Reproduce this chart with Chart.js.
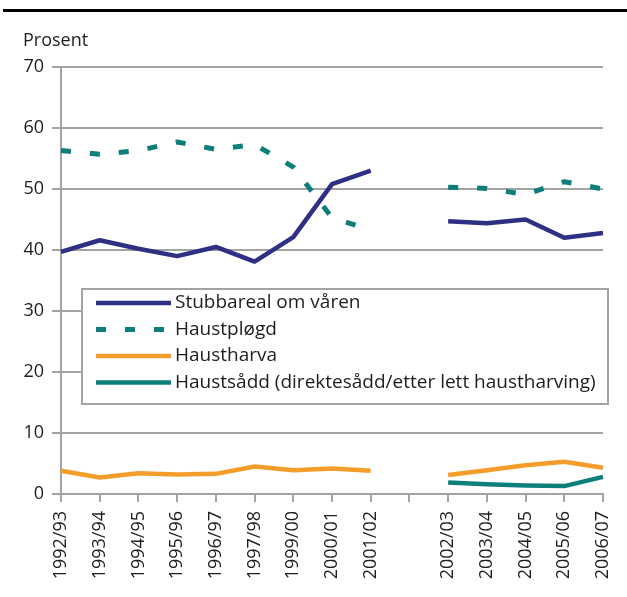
<!DOCTYPE html>
<html>
<head>
<meta charset="utf-8">
<script src="https://cdn.jsdelivr.net/npm/chart.js@4"></script>
<style>
  html, body { margin: 0; padding: 0; background: #fff; }
  #wrap { width: 627px; height: 597px; position: relative; }
</style>
</head>
<body>
<div id="wrap"><canvas id="myChart" width="627" height="597"></canvas></div>
<script>
// categories ('' = empty slot between the two periods)
const labels = ["1992/93", "1993/94", "1994/95", "1995/96", "1996/97", "1997/98", "1999/00", "2000/01", "2001/02", "",
    "2002/03", "2003/04", "2004/05", "2005/06", "2006/07"];

const stubbareal = [39.7, 41.6, 40.2, 39.0, 40.5, 38.1, 42.1, 50.8, 53.0, null, 44.7, 44.4, 45.0, 42.0, 42.8];
const haustplogd = [56.3, 55.7, 56.3, 57.7, 56.5, 57.3, 53.6, 45.3, 43.3, null, 50.3, 50.1, 49.1, 51.2, 50.0];
const haustharva = [3.8, 2.7, 3.4, 3.2, 3.3, 4.5, 3.9, 4.2, 3.8, null, 3.1, 3.9, 4.7, 5.3, 4.3];
const haustsadd = [null, null, null, null, null, null, null, null, null, null, 1.9, 1.6, 1.4, 1.3, 2.8];

const yTicks = [0, 10, 20, 30, 40, 50, 60, 70];

const FONT = "'Open Sans', sans-serif";
const TEXT = "#1d1d1b";
const GRID = "#a3a3a3";

const decorations = {
    id: "decorations",
    afterDraw(chart) {
        const c = chart.ctx;
        c.save();
        // black rule on top
        c.fillStyle = "#000";
        c.fillRect(3, 9, 624, 3);
        // unit label
        c.fillStyle = TEXT;
        c.font = "18px " + FONT;
        c.textBaseline = "middle";
        c.textAlign = "left";
        c.fillText("Prosent", 23, 41);

        // legend box
        const bx = 82, by = 289, bw = 526, bh = 115;
        c.fillStyle = "#fff";
        c.fillRect(bx, by, bw, bh);
        c.strokeStyle = GRID;
        c.lineWidth = 2;
        c.strokeRect(bx, by, bw, bh);
        chart.data.datasets.forEach((ds, i) => {
            const y = by + 14 + i * 26.5;
            c.beginPath();
            c.strokeStyle = ds.borderColor;
            c.lineWidth = ds.borderWidth;
            c.setLineDash(ds.borderDash || []);
            c.moveTo(96, y);
            c.lineTo(171, y);
            c.stroke();
            c.setLineDash([]);
            c.fillStyle = TEXT;
            c.font = "19px " + FONT;
            c.fillText(ds.label, 175, y);
        });
        c.restore();
    }
};

const ctx = document.getElementById("myChart").getContext("2d");
const myChart = new Chart(ctx, {
    type: "line",
    data: {
        labels: labels,
        datasets: [
            {
                label: "Stubbareal om våren",
                data: stubbareal,
                borderColor: "#2e3083",
                borderWidth: 4.5,
            },
            {
                label: "Haustpløgd",
                data: haustplogd,
                borderColor: "#0d7f7b",
                borderWidth: 5,
                borderDash: [10, 19],
            },
            {
                label: "Haustharva",
                data: haustharva,
                borderColor: "#f59d2a",
                borderWidth: 4.5,
            },
            {
                label: "Haustsådd (direktesådd/etter lett haustharving)",
                data: haustsadd,
                borderColor: "#0d7f7b",
                borderWidth: 4.5,
            },
        ],
    },
    options: {
        responsive: false,
        animation: false,
        spanGaps: false,
        elements: {
            point: { radius: 0, hoverRadius: 0 },
            line: { tension: 0, borderCapStyle: "butt", borderJoinStyle: "round" },
        },
        plugins: {
            legend: { display: false },
            tooltip: { enabled: false },
        },
        layout: {
            padding: { top: 67, right: 24, bottom: 0, left: 0 },
        },
        scales: {
            x: {
                type: "category",
                offset: false,
                afterFit: (scale) => {
                    scale.height = 103;
                    scale.paddingLeft = 0;
                    scale.paddingRight = 0;
                },
                grid: {
                    drawOnChartArea: false,
                    drawTicks: true,
                    tickLength: 8,
                    color: GRID,
                    lineWidth: 2,
                },
                border: { color: GRID, width: 2 },
                ticks: {
                    autoSkip: false,
                    maxRotation: 90,
                    minRotation: 90,
                    padding: 9,
                    color: TEXT,
                    font: { family: FONT, size: 18 },
                },
            },
            y: {
                min: 0,
                max: 70,
                afterFit: (scale) => {
                    scale.width = 61;
                    scale.paddingTop = 0;
                    scale.paddingBottom = 0;
                },
                afterBuildTicks: (scale) => { scale.ticks = yTicks.map(v => ({ value: v })); },
                grid: {
                    color: GRID,
                    lineWidth: 2,
                    tickLength: 9,
                },
                border: { color: GRID, width: 2 },
                ticks: {
                    padding: 8,
                    color: TEXT,
                    font: { family: FONT, size: 18 },
                },
            },
        },
    },
    plugins: [decorations],
});
</script>
</body>
</html>
